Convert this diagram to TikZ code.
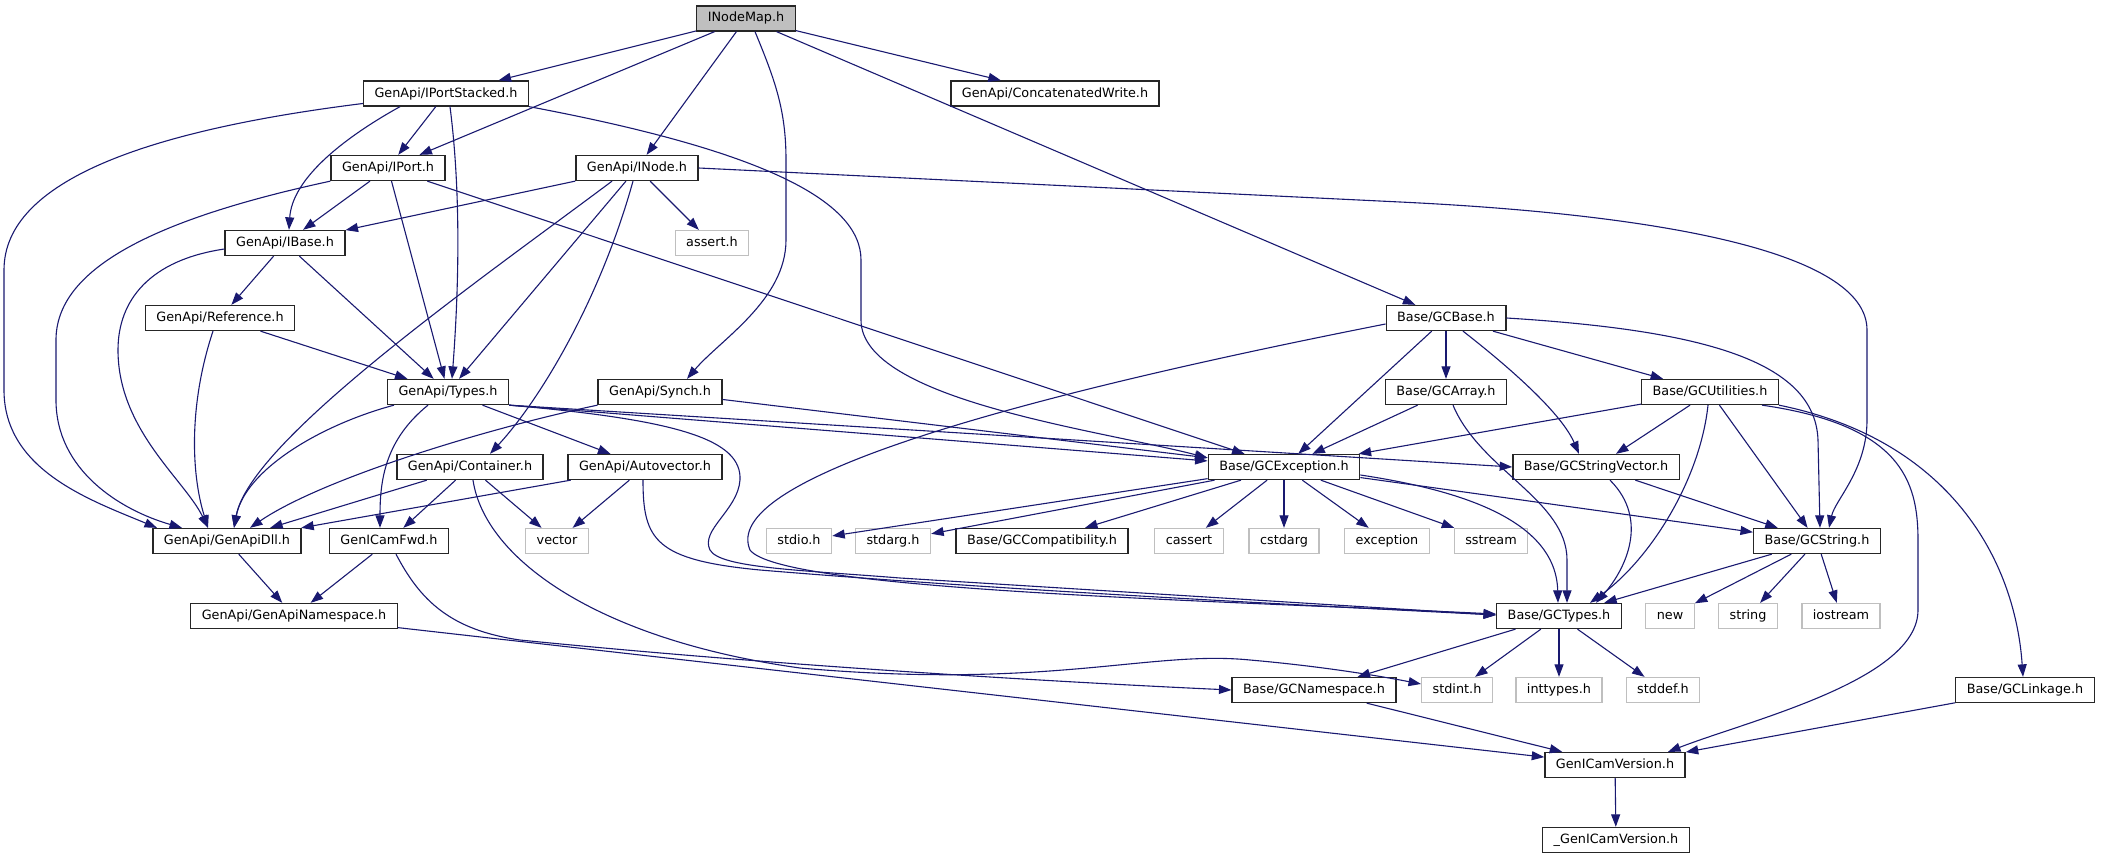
\documentclass[tikz,border=0pt]{standalone}
\usepackage{fontspec}
\setmainfont{DejaVu Sans}
\usetikzlibrary{arrows.meta}
\definecolor{incblue}{HTML}{191970}
\definecolor{sysgray}{HTML}{BFBFBF}
\begin{document}
\begin{tikzpicture}
    [x=1pt,y=-1pt,
    hdr/.style={draw=black!85,line width=1.3pt,inner xsep=11pt,inner ysep=0pt,
      minimum height=25pt,text height=9.6pt,text depth=2.6pt,
      font=\fontsize{12.8}{14}\selectfont},
    sys/.style={hdr,draw=sysgray},
    inc/.style={draw=incblue,line width=1.1pt,-{Triangle[length=12.5pt,width=9pt]}}]
    \useasboundingbox (0,0) rectangle (2105,859);
    \node[hdr,fill=sysgray] (nodemap) at (746,18.5) {INodeMap.h};
    \node[hdr] (portstacked) at (446,93.5) {GenApi/IPortStacked.h};
    \node[hdr] (concatwrite) at (1055,93.5) {GenApi/ConcatenatedWrite.h};
    \node[hdr] (port) at (388,168) {GenApi/IPort.h};
    \node[hdr] (inode) at (637,168) {GenApi/INode.h};
    \node[hdr] (ibase) at (285,243) {GenApi/IBase.h};
    \node[sys] (assert) at (712,243) {assert.h};
    \node[hdr] (reference) at (220,318) {GenApi/Reference.h};
    \node[hdr] (gcbase) at (1446,318) {Base/GCBase.h};
    \node[hdr] (types) at (448,392) {GenApi/Types.h};
    \node[hdr] (synch) at (660,392) {GenApi/Synch.h};
    \node[hdr] (gcarray) at (1446,392) {Base/GCArray.h};
    \node[hdr] (gcutil) at (1710,392) {Base/GCUtilities.h};
    \node[hdr] (container) at (470,467) {GenApi/Container.h};
    \node[hdr] (autovec) at (645,467) {GenApi/Autovector.h};
    \node[hdr] (gcexc) at (1284,467) {Base/GCException.h};
    \node[hdr] (gcstrvec) at (1596,467) {Base/GCStringVector.h};
    \node[hdr] (apidll) at (227,541) {GenApi/GenApiDll.h};
    \node[hdr] (camfwd) at (389,541) {GenICamFwd.h};
    \node[sys] (vector) at (557,541) {vector};
    \node[sys] (stdio) at (799,541) {stdio.h};
    \node[sys] (stdarg) at (893,541) {stdarg.h};
    \node[hdr] (gccompat) at (1042,541) {Base/GCCompatibility.h};
    \node[sys] (cassert) at (1189,541) {cassert};
    \node[sys] (cstdarg) at (1284,541) {cstdarg};
    \node[sys] (exception) at (1387,541) {exception};
    \node[sys] (sstream) at (1491,541) {sstream};
    \node[hdr] (gcstring) at (1817,541) {Base/GCString.h};
    \node[hdr] (apins) at (294,616) {GenApi/GenApiNamespace.h};
    \node[hdr] (gctypes) at (1559,616) {Base/GCTypes.h};
    \node[sys] (new) at (1670,616) {new};
    \node[sys] (string) at (1748,616) {string};
    \node[sys] (iostream) at (1841,616) {iostream};
    \node[hdr] (gcns) at (1314,690) {Base/GCNamespace.h};
    \node[sys] (stdint) at (1457,690) {stdint.h};
    \node[sys] (inttypes) at (1559,690) {inttypes.h};
    \node[sys] (stddef) at (1663,690) {stddef.h};
    \node[hdr] (gclinkage) at (2025,690) {Base/GCLinkage.h};
    \node[hdr] (camver) at (1615,765) {GenICamVersion.h};
    \node[hdr] (camverx) at (1616,840) {\_GenICamVersion.h};
    \foreach \a/\b in {nodemap/portstacked,nodemap/port,nodemap/inode,nodemap/gcbase,
      nodemap/concatwrite,portstacked/port,port/ibase,port/types,port/gcexc,
      inode/ibase,inode/types,inode/assert,ibase/reference,ibase/types,reference/types,
      types/autovec,synch/gcexc,container/apidll,container/camfwd,container/vector,
      autovec/apidll,autovec/vector,camfwd/apins,apidll/apins,apins/camver,
      gcbase/gcexc,gcbase/gcarray,gcbase/gcutil,gcarray/gcexc,gcutil/gcexc,
      gcutil/gcstrvec,gcutil/gcstring,gcexc/stdio,gcexc/stdarg,gcexc/gccompat,
      gcexc/cassert,gcexc/cstdarg,gcexc/exception,gcexc/sstream,gcexc/gcstring,
      gcstrvec/gcstring,gcstring/gctypes,gcstring/new,gcstring/string,gcstring/iostream,
      gctypes/gcns,gctypes/stdint,gctypes/inttypes,gctypes/stddef,gcns/camver,
      gclinkage/camver,camver/camverx}
      \draw[inc] (\a) -- (\b);
    \draw[inc] ([xshift=9pt]nodemap.south) .. controls (775,80) and (786,110) .. (786,160)
      -- (786,240) .. controls (786,300) and (720,340) .. ([xshift=27pt]synch.north);
    \draw[inc] ([xshift=-46pt]portstacked.south) .. controls (340,140) and (292,180) .. ([xshift=4pt]ibase.north);
    \draw[inc] ([xshift=4pt]portstacked.south) .. controls (462,200) and (458,300) .. ([xshift=4pt]types.north);
    \draw[inc] ([yshift=-10pt]portstacked.west) .. controls (150,130) and (4,180) .. (4,270)
      -- (4,390) .. controls (4,470) and (90,500) .. ([xshift=-70pt]apidll.north);
    \draw[inc] (portstacked.south east) .. controls (760,150) and (861,200) .. (861,260)
      -- (861,320) .. controls (861,400) and (1100,430) .. ([yshift=-4pt]gcexc.north west);
    \draw[inc] (port.south west) .. controls (150,220) and (56,270) .. (56,340)
      -- (56,400) .. controls (56,470) and (120,510) .. ([xshift=-45pt]apidll.north);
    \draw[inc] ([xshift=-25pt]inode.south) .. controls (480,280) and (250,440) .. ([xshift=7pt]apidll.north);
    \draw[inc] ([xshift=-4pt]inode.south) .. controls (600,300) and (540,400) .. ([xshift=20pt]container.north);
    \draw[inc] (inode.east) -- (1400,202) .. controls (1650,214) and (1867,250) .. (1867,330)
      -- (1867,420) .. controls (1867,470) and (1835,500) .. ([xshift=12pt]gcstring.north);
    \draw[inc] ([yshift=-6pt]ibase.west) .. controls (150,260) and (118,300) .. (118,350)
      .. controls (118,430) and (185,480) .. ([xshift=-19pt]apidll.north);
    \draw[inc] ([xshift=-7pt]reference.south) .. controls (190,400) and (190,470) .. ([xshift=-19pt]apidll.north);
    \draw[inc] ([xshift=-54pt]types.south) .. controls (320,425) and (245,470) .. ([xshift=7pt]apidll.north);
    \draw[inc] ([xshift=-20pt]types.south) .. controls (385,440) and (380,480) .. ([xshift=-9pt]camfwd.north);
    \draw[inc] (types.south east) -- (gcexc);
    \draw[inc] (types.south east) -- (gcstrvec.west);
    \draw[inc] (types.south east) .. controls (680,420) and (742,440) .. (740,480)
      .. controls (738,510) and (700,530) .. (710,550) .. controls (720,568) and (800,570) .. (900,578)
      -- ([yshift=1pt]gctypes.west);
    \draw[inc] (synch.south west) .. controls (480,430) and (320,480) .. ([xshift=23pt]apidll.north);
    \draw[inc] ([xshift=3pt]container.south) .. controls (485,560) and (600,640) .. (800,668)
      .. controls (1050,690) and (1150,650) .. (1250,660) .. controls (1330,667) and (1390,678) .. ([yshift=6pt]stdint.west);
    \draw[inc] ([xshift=7pt]camfwd.south) .. controls (420,600) and (450,630) .. (520,640)
      .. controls (800,668) and (1100,684) .. (gcns.west);
    \draw[inc] ([xshift=-2pt]autovec.south) .. controls (643,540) and (655,560) .. (760,570)
      .. controls (1000,590) and (1300,605) .. ([yshift=1pt]gctypes.west);
    \draw[inc] ([xshift=17pt]gcbase.south) .. controls (1500,360) and (1560,410) .. ([xshift=-17pt]gcstrvec.north);
    \draw[inc] (gcbase.east) .. controls (1700,330) and (1815,360) .. (1818,440) -- ([xshift=3pt]gcstring.north);
    \draw[inc] ([yshift=-6pt]gcbase.west) .. controls (1000,400) and (720,480) .. (750,550)
      .. controls (780,590) and (1200,600) .. ([yshift=2pt]gctypes.west);
    \draw[inc] ([xshift=7pt]gcarray.south) .. controls (1480,470) and (1567,500) .. (1567,560) -- ([xshift=8pt]gctypes.north);
    \draw[inc] ([xshift=-2pt]gcutil.south) .. controls (1700,480) and (1650,560) .. ([xshift=31pt]gctypes.north);
    \draw[inc] ([xshift=52pt]gcutil.south) .. controls (1900,425) and (1918,480) .. (1918,540)
      -- (1918,610) .. controls (1918,680) and (1750,720) .. ([xshift=53pt]camver.north);
    \draw[inc] (gcutil.south east) .. controls (1950,440) and (2015,560) .. ([xshift=-2pt]gclinkage.north);
    \draw[inc] ([yshift=-8pt]gcexc.east) .. controls (1460,490) and (1556,520) .. ([xshift=-1pt]gctypes.north);
    \draw[inc] ([xshift=14pt]gcstrvec.south) .. controls (1650,520) and (1625,570) .. ([xshift=37pt]gctypes.north);
\end{tikzpicture}
\end{document}
